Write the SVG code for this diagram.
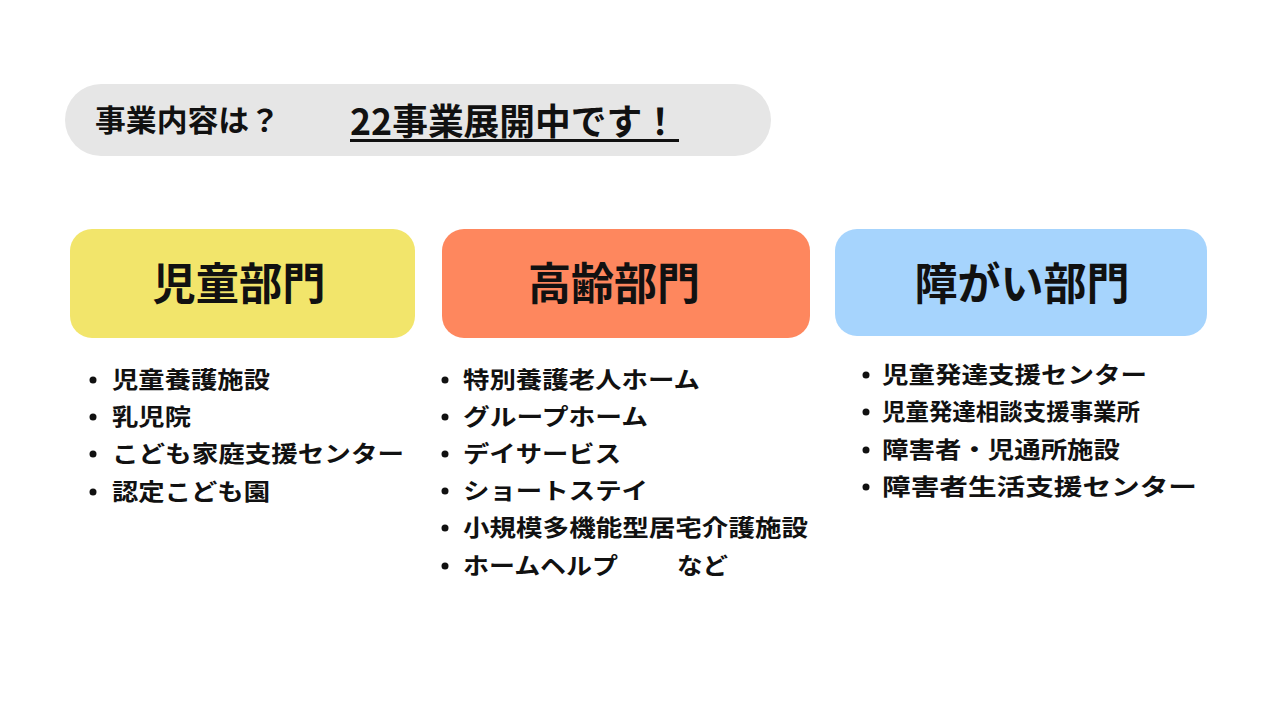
<svg xmlns="http://www.w3.org/2000/svg" width="1280" height="720" viewBox="0 0 1280 720">
<style>
text{font-family:"Noto Sans CJK JP","Noto Sans",sans-serif;font-weight:700;fill:#111}
.t{font-size:44px;text-anchor:middle}
.i{font-size:23px}
.b{fill:#111}
</style>
<rect width="1280" height="720" fill="#fff"/>
<g id="header">
<rect x="65" y="84" width="706" height="72" rx="36" fill="#e6e6e6"/>
<text x="95" y="131" font-size="30" textLength="185" lengthAdjust="spacingAndGlyphs" fill="#222">事業内容は？</text>
<text x="350" y="135" font-size="36" textLength="328" lengthAdjust="spacingAndGlyphs">22事業展開中です！</text>
<rect x="350" y="139" width="329" height="3" fill="#111"/>
</g>
<g id="children">
<rect x="70" y="229" width="345" height="109" rx="22" fill="#f2e56b"/>
<text class="t" x="239" y="300" textLength="173" lengthAdjust="spacingAndGlyphs">児童部門</text>
<circle class="b" cx="93" cy="380" r="3.5"/>
<text class="i" x="112" y="388" textLength="158" lengthAdjust="spacingAndGlyphs">児童養護施設</text>
<circle class="b" cx="93" cy="417" r="3.5"/>
<text class="i" x="112" y="425" textLength="79" lengthAdjust="spacingAndGlyphs">乳児院</text>
<circle class="b" cx="93" cy="454" r="3.5"/>
<text class="i" x="112" y="462" textLength="292" lengthAdjust="spacingAndGlyphs">こども家庭支援センター</text>
<circle class="b" cx="93" cy="492" r="3.5"/>
<text class="i" x="112" y="500" textLength="158" lengthAdjust="spacingAndGlyphs">認定こども園</text>
</g>
<g id="elderly">
<rect x="442" y="229" width="368" height="109" rx="22" fill="#fe875e"/>
<text class="t" x="614" y="300" textLength="172" lengthAdjust="spacingAndGlyphs">高齢部門</text>
<circle class="b" cx="445" cy="380" r="3.5"/>
<text class="i" x="463" y="388" textLength="237" lengthAdjust="spacingAndGlyphs">特別養護老人ホーム</text>
<circle class="b" cx="445" cy="417" r="3.5"/>
<text class="i" x="463" y="425" textLength="185" lengthAdjust="spacingAndGlyphs">グループホーム</text>
<circle class="b" cx="445" cy="454" r="3.5"/>
<text class="i" x="463" y="462" textLength="158" lengthAdjust="spacingAndGlyphs">デイサービス</text>
<circle class="b" cx="445" cy="491" r="3.5"/>
<text class="i" x="463" y="499" textLength="185" lengthAdjust="spacingAndGlyphs">ショートステイ</text>
<circle class="b" cx="445" cy="528" r="3.5"/>
<text class="i" x="463" y="536" textLength="345" lengthAdjust="spacingAndGlyphs">小規模多機能型居宅介護施設</text>
<circle class="b" cx="445" cy="566" r="3.5"/>
<text class="i" x="463" y="574" textLength="155" lengthAdjust="spacingAndGlyphs">ホームヘルプ</text>
<text class="i" x="677" y="574" textLength="51" lengthAdjust="spacingAndGlyphs">など</text>
</g>
<g id="disability">
<rect x="835" y="229" width="372" height="107" rx="22" fill="#a6d4fd"/>
<text class="t" x="1022" y="300" textLength="215" lengthAdjust="spacingAndGlyphs">障がい部門</text>
<circle class="b" cx="866" cy="375" r="3.5"/>
<text class="i" x="882" y="383" textLength="265" lengthAdjust="spacingAndGlyphs">児童発達支援センター</text>
<circle class="b" cx="866" cy="412" r="3.5"/>
<text class="i" x="882" y="420" textLength="258" lengthAdjust="spacingAndGlyphs">児童発達相談支援事業所</text>
<circle class="b" cx="866" cy="450" r="3.5"/>
<text class="i" x="882" y="458" textLength="238" lengthAdjust="spacingAndGlyphs">障害者・児通所施設</text>
<circle class="b" cx="866" cy="487" r="3.5"/>
<text class="i" x="882" y="495" textLength="315" lengthAdjust="spacingAndGlyphs">障害者生活支援センター</text>
</g>
<g id="connectors"/>
</svg>
